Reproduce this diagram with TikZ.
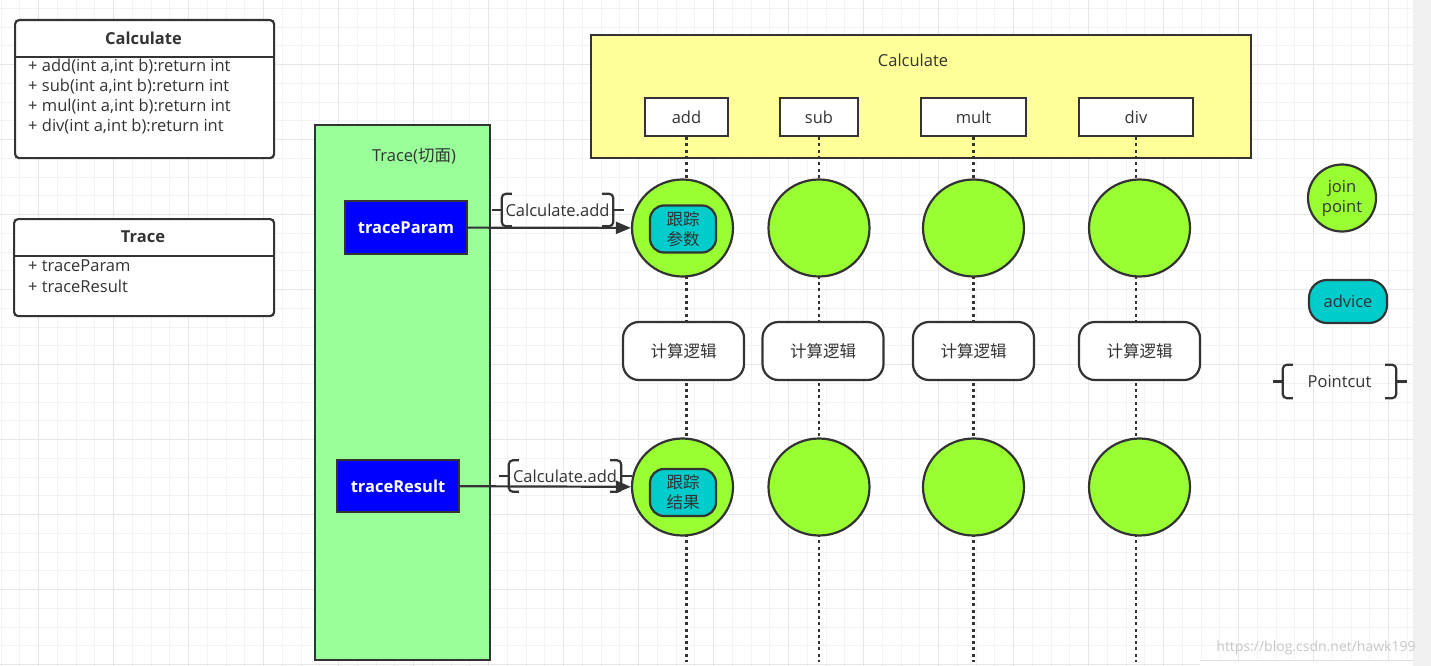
\documentclass[tikz,border=0pt]{standalone}
\usepackage{fontspec}
\setmainfont{Open Sans}
\newfontfamily\cjk{Noto Sans CJK SC}
\usetikzlibrary{arrows.meta,positioning,shapes.geometric}

\definecolor{ink}{HTML}{333333}
\definecolor{gridminor}{HTML}{F3F3F3}
\definecolor{gridmajor}{HTML}{E6E6E6}
\definecolor{calcyellow}{HTML}{FFFF99}
\definecolor{aspectgreen}{HTML}{99FF99}
\definecolor{jointgreen}{HTML}{99FF33}
\definecolor{adviceteal}{HTML}{00CCCC}
\definecolor{traceblue}{HTML}{0000FF}

\tikzset{
  outline/.style={draw=ink,line width=2.2pt},
  classbox/.style={outline,fill=white,rounded corners=4pt,anchor=north west},
  methodbox/.style={outline,fill=white,minimum height=38pt,inner sep=0pt},
  joinpt/.style={outline,ellipse,fill=jointgreen,minimum width=101pt,minimum height=97pt,inner sep=0pt,align=center},
  advicebox/.style={outline,fill=adviceteal,rounded corners=14pt,minimum width=66pt,minimum height=47pt,inner sep=0pt,align=center,font=\cjk},
  logicbox/.style={outline,fill=white,rounded corners=16pt,minimum width=121pt,minimum height=58pt,font=\cjk},
  aspectbox/.style={outline,fill=traceblue,text=white,font=\bfseries,minimum width=122pt,minimum height=53pt},
  lifeline/.style={draw=ink,line width=2.4pt,dash pattern=on 3pt off 3.3pt},
  call/.style={draw=ink,line width=2.2pt,-{Triangle[length=15pt,width=12pt]}},
  brace/.style={draw=ink,line width=2.2pt,rounded corners=4pt},
  pointcut/.style={minimum width=112pt,minimum height=32pt,inner sep=0pt},
}

\begin{document}
\fontsize{16.5}{20}\selectfont
\begin{tikzpicture}[x=1pt,y=-1pt,text=ink]
\useasboundingbox (0,0) rectangle (1431,666);
% canvas and grid
\fill[white] (0,0) rectangle (1431,666);
\foreach \i [evaluate=\i as \gx using 0.8+18.75*\i] in {0,...,75}
  \draw[gridminor] (\gx,0) -- (\gx,666);
\foreach \i [evaluate=\i as \gy using 8.05+18.75*\i] in {0,...,35}
  \draw[gridminor] (0,\gy) -- (1413,\gy);
\foreach \i [evaluate=\i as \gx using 38.3+75*\i] in {0,...,18}
  \draw[gridmajor] (\gx,0) -- (\gx,666);
\foreach \i [evaluate=\i as \gy using 64.3+75*\i] in {0,...,8}
  \draw[gridmajor] (0,\gy) -- (1413,\gy);
\fill[black!6] (1413,0) rectangle (1431,666);
\fill[white] (1200,660) rectangle (1413,666);
\draw[black!12] (1200,660) -- (1413,660);

% class Calculate
\node[classbox,minimum width=259pt,minimum height=138pt] (calcCls) at (14,19) {};
\node[font=\bfseries] (calcClsTitle) at (143.5,38) {Calculate};
\draw[outline] (calcCls.west |- 0,57) -- (calcCls.east |- 0,57);
\foreach \op [count=\i] in {add,sub,mul,div}
  \node[anchor=west,inner sep=0pt] (calcOp\i) at (28,47+20*\i) {+ \op(int a,int b):return int};

% class Trace
\node[classbox,minimum width=260pt,minimum height=97pt] (traceCls) at (13,218) {};
\node[font=\bfseries] (traceClsTitle) at (143,237) {Trace};
\draw[outline] (traceCls.west |- 0,256) -- (traceCls.east |- 0,256);
\node[anchor=west,inner sep=0pt] (traceOp1) at (28,266) {+ traceParam};
\node[anchor=west,inner sep=0pt] (traceOp2) at (28,286) {+ traceResult};

% the Calculate object
\node[outline,fill=calcyellow,minimum width=660pt,minimum height=123pt,anchor=north west] (calcObj) at (590,34) {};
\node (calcObjTitle) at (913,60) {Calculate};
\node[methodbox,minimum width=83pt] (add) at (686.5,117) {add};
\node[methodbox,minimum width=78pt] (sub) at (819,117) {sub};
\node[methodbox,minimum width=105pt] (mult) at (973.5,117) {mult};
\node[methodbox,minimum width=114pt] (div) at (1136,117) {div};

% life lines
\coordinate (bottom) at (0,662);
\foreach \m in {add,sub,mult,div}
  \draw[lifeline] (\m.south) -- (\m.south |- bottom);

% join points and logic
\foreach \m/\cx/\lx in {add/682.5/683.5,sub/819/823,mult/973.5/973.5,div/1139.5/1139.5}
{
  \node[joinpt] (jp\m1) at (\cx,228) {};
  \node[logicbox] (logic\m) at (\lx,351) {计算逻辑};
  \node[joinpt] (jp\m2) at (\cx,487) {};
}
\node[advicebox] (adv1) at (683,229) {跟踪\\参数};
\node[advicebox] (adv2) at (683,492.5) {跟踪\\结果};

% the Trace aspect
\node[outline,fill=aspectgreen,minimum width=175pt,minimum height=535pt,anchor=north west] (traceAsp) at (314,124) {};
\node (traceAspTitle) at (414,156) {Trace({\cjk 切面})};
\node[aspectbox] (tParam) at (406,227.5) {traceParam};
\node[aspectbox,minimum height=52pt] (tResult) at (398,486) {traceResult};

% advice calls
\draw[call] (tParam) -- (jpadd1);
\draw[call] (tResult) -- (jpadd2);

% pointcuts
\node[pointcut,minimum width=111pt] (pcParam) at (557.5,210) {Calculate.add};
\node[pointcut,minimum height=31pt] (pcResult) at (565,476) {Calculate.add};

% legend
\node[joinpt,minimum width=68pt,minimum height=67pt] (jpLegend) at (1342,198) {join\\point};
\node[advicebox,minimum width=78pt,minimum height=43pt,rounded corners=18pt,font=\normalfont] (advLegend) at (1348,301.5) {advice};
\node[pointcut,minimum width=113pt,minimum height=33pt] (pcLegend) at (1339.5,381.5) {Pointcut};

\foreach \p in {pcParam,pcResult,pcLegend}
{
  \draw[brace] ([xshift=10pt]\p.north west) -- (\p.north west) -- (\p.south west) -- ([xshift=10pt]\p.south west);
  \draw[brace] ([xshift=-10pt]\p.west) -- (\p.west);
  \draw[brace] ([xshift=-11pt]\p.north east) -- (\p.north east) -- (\p.south east) -- ([xshift=-11pt]\p.south east);
  \draw[brace] ([xshift=11pt]\p.east) -- (\p.east);
}

% watermark
\node[text=black!22,font=\fontsize{14}{16}\selectfont] (mark) at (1316,648) {https://blog.csdn.net/hawk199};
\end{tikzpicture}
\end{document}
